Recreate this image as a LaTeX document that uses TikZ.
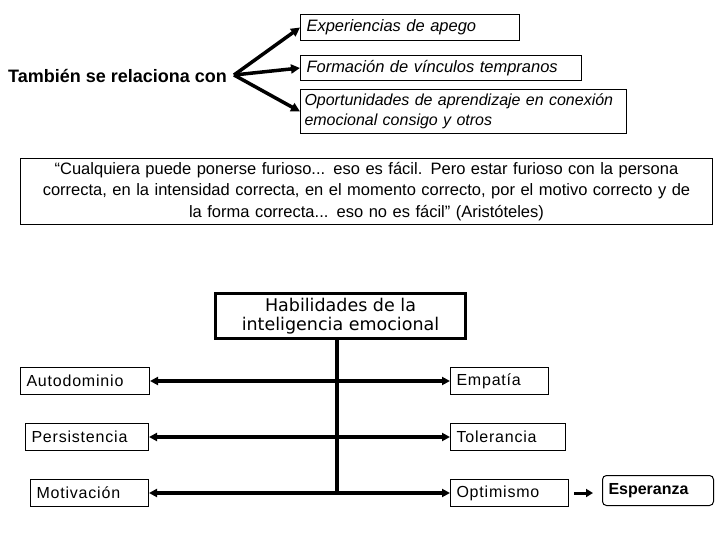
\documentclass[tikz,border=0pt]{standalone}
\usepackage{fontspec}
\setmainfont{Liberation Sans}
\newfontfamily\verdanafont{DejaVu Sans}
\newfontfamily\anchafont[LetterSpace=5]{Liberation Sans}
\usetikzlibrary{arrows.meta,positioning}

\tikzset{
    caja/.style={draw, line width=1pt, anchor=north west, inner xsep=6pt, inner ysep=0pt, align=left, font=\anchafont\fontsize{16}{19}\selectfont},
    flecha/.style={line width=3.5pt, -{Triangle[length=9pt,width=9pt]}},
    dobleflecha/.style={line width=3.5pt, {Triangle[length=8pt,width=8pt]}-{Triangle[length=8pt,width=8pt]}}
}

\begin{document}
\begin{tikzpicture}[x=1pt,y=-1pt]
\useasboundingbox (0,0) rectangle (720,540);

% parte superior
\node[anchor=west, inner sep=0pt, font=\bfseries\fontsize{18}{21}\selectfont] (rel) at (8,76) {También se relaciona con};
\coordinate (origen) at (234,75);
\node[caja, minimum width=219pt, minimum height=26pt, text width=207pt, font=\itshape\fontsize{16.5}{19}\selectfont] (apego) at (300,14) {Experiencias de apego};
\node[caja, minimum width=281pt, minimum height=25pt, text width=269pt, font=\itshape\fontsize{16.5}{19}\selectfont] (vinculos) at (300,55) {Formación de vínculos tempranos};
\node[caja, minimum width=326pt, minimum height=44pt, inner xsep=4pt, text width=318pt, font=\itshape\fontsize{16}{20}\selectfont] (oport) at (300,89) {Oportunidades de aprendizaje en conexión\\emocional consigo y otros};
\draw[flecha] (origen) -- (apego.west);
\draw[flecha] (origen) -- (vinculos.west);
\draw[flecha] (origen) -- (oport.west);

% cita
\node[caja, minimum width=692pt, minimum height=66pt, text width=680pt, align=center, font=\fontsize{16.5}{21.5}\selectfont] (cita) at (20,158)
    {“Cualquiera puede ponerse furioso... eso es fácil. Pero estar furioso con la persona\\correcta, en la intensidad correcta, en el momento correcto, por el motivo correcto y de\\la forma correcta... eso no es fácil” (Aristóteles)};

% habilidades
\node[draw, line width=3pt, anchor=north west, minimum width=250pt, minimum height=45pt, inner sep=0pt, align=center, font=\verdanafont\fontsize{17.5}{19}\selectfont] (hab) at (214,292) {Habilidades de la\\inteligencia emocional};
\coordinate (fin) at (337,492);
\draw[line width=3.5pt] (hab.south -| fin) -- (fin);

\node[caja, minimum width=129pt, minimum height=27pt, text width=117pt] (auto) at (20,367) {Autodominio};
\node[caja, minimum width=123pt, minimum height=27pt, text width=111pt] (pers) at (25,423) {Persistencia};
\node[caja, minimum width=118pt, minimum height=27pt, text width=106pt] (motiv) at (30,479) {Motivación};
\node[caja, minimum width=98pt, minimum height=27pt, text width=86pt] (emp) at (450,367) {Empatía};
\node[caja, minimum width=115pt, minimum height=27pt, text width=103pt] (tol) at (450,423) {Tolerancia};
\node[caja, minimum width=118pt, minimum height=27pt, text width=106pt] (optim) at (450,479) {Optimismo};
\node[caja, rounded corners=4pt, minimum width=111pt, minimum height=30pt, text width=99pt, font=\bfseries\fontsize{16}{19}\selectfont] (esp) at (602,475) {Esperanza};

\draw[dobleflecha] (auto.east) -- (emp.west);
\draw[dobleflecha] (pers.east) -- (tol.west);
\draw[dobleflecha] (motiv.east) -- (optim.west);
\draw[line width=3pt, -{Triangle[length=7pt,width=8pt]}, shorten <=5pt, shorten >=9pt] (optim.east) -- (esp.west |- optim.east);
\end{tikzpicture}
\end{document}
